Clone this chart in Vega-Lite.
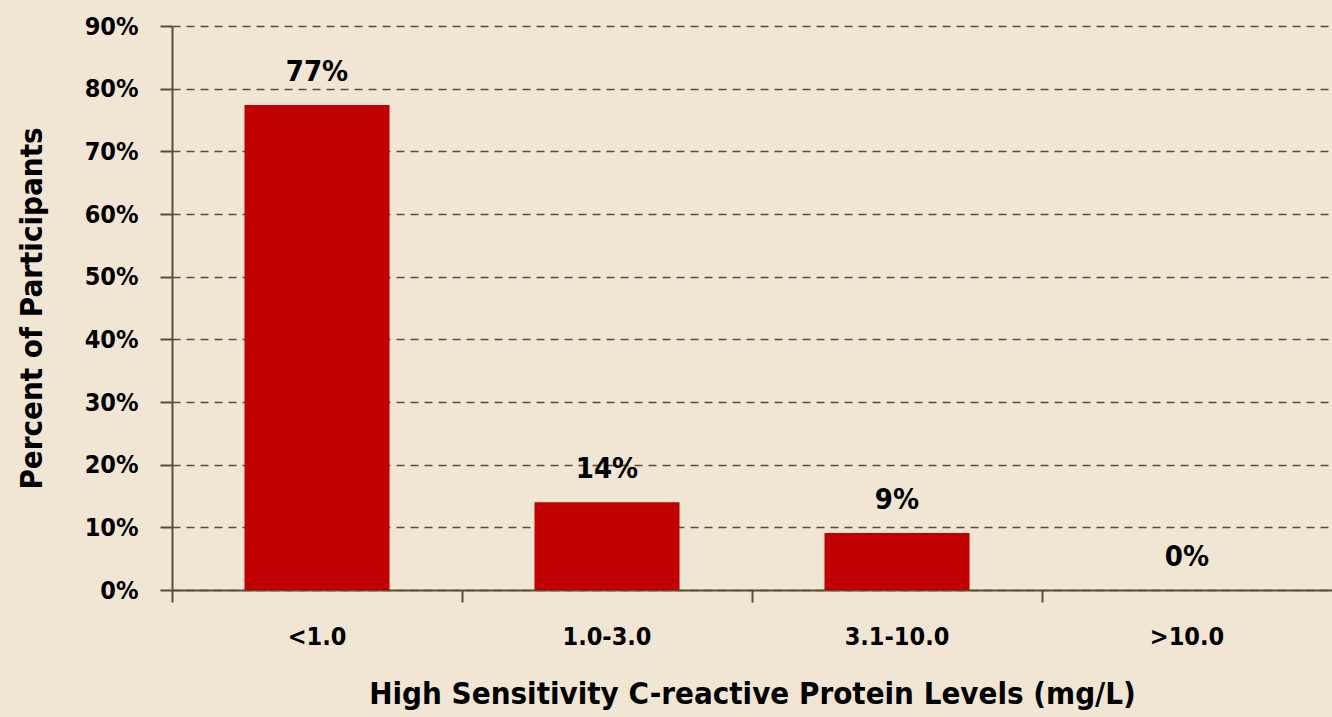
{
  "$schema": "https://vega.github.io/schema/vega-lite/v6.json",
  "autosize": "none",
  "width": 1160,
  "height": 564,
  "padding": {"left": 172, "top": 26, "right": 0, "bottom": 127},
  "background": "#F1E6D3",
  "config": {
    "view": {"stroke": null},
    "font": "DejaVu Sans Condensed, sans-serif",
    "axis": {
      "labelFont": "DejaVu Sans Condensed, sans-serif",
      "titleFont": "DejaVu Sans Condensed, sans-serif",
      "labelFontWeight": "bold",
      "titleFontWeight": "bold",
      "labelColor": "#000000",
      "titleColor": "#000000",
      "domainColor": "#5A4F32",
      "tickColor": "#5A4F32",
      "domainWidth": 2,
      "tickWidth": 2,
      "tickSize": 12
    }
  },
  "data": {
    "values": [
      {"level": "<1.0", "pct": 0.774, "label": "77%"},
      {"level": "1.0-3.0", "pct": 0.140, "label": "14%"},
      {"level": "3.1-10.0", "pct": 0.091, "label": "9%"},
      {"level": ">10.0", "pct": 0.0, "label": "0%"}
    ]
  },
  "encoding": {
    "x": {
      "field": "level",
      "type": "nominal",
      "sort": null,
      "scale": {"paddingInner": 0.5, "paddingOuter": 0.25},
      "axis": {
        "title": "High Sensitivity C-reactive Protein Levels (mg/L)",
        "labelAngle": 0,
        "bandPosition": -0.5,
        "labelFontSize": 25,
        "labelPadding": 22,
        "titleFontSize": 31,
        "titlePadding": 30,
        "grid": false
      }
    },
    "y": {
      "field": "pct",
      "type": "quantitative",
      "scale": {"domain": [0, 0.9], "nice": false},
      "axis": {
        "title": "Percent of Participants",
        "format": ".0%",
        "values": [0, 0.1, 0.2, 0.3, 0.4, 0.5, 0.6, 0.7, 0.8, 0.9],
        "labelFontSize": 25,
        "labelPadding": 22,
        "titleFontSize": 31,
        "titlePadding": 36,
        "tickSize": 12,
        "grid": true,
        "gridColor": "#5A4F32",
        "gridDash": [8, 6],
        "gridWidth": 1.5
      }
    }
  },
  "layer": [
    {"mark": {"type": "bar", "color": "#C00000"}},
    {
      "mark": {"type": "text", "baseline": "bottom", "dy": -18, "fontSize": 29, "fontWeight": "bold", "font": "DejaVu Sans Condensed, sans-serif", "color": "#000000"},
      "encoding": {"text": {"field": "label"}}
    }
  ]
}
